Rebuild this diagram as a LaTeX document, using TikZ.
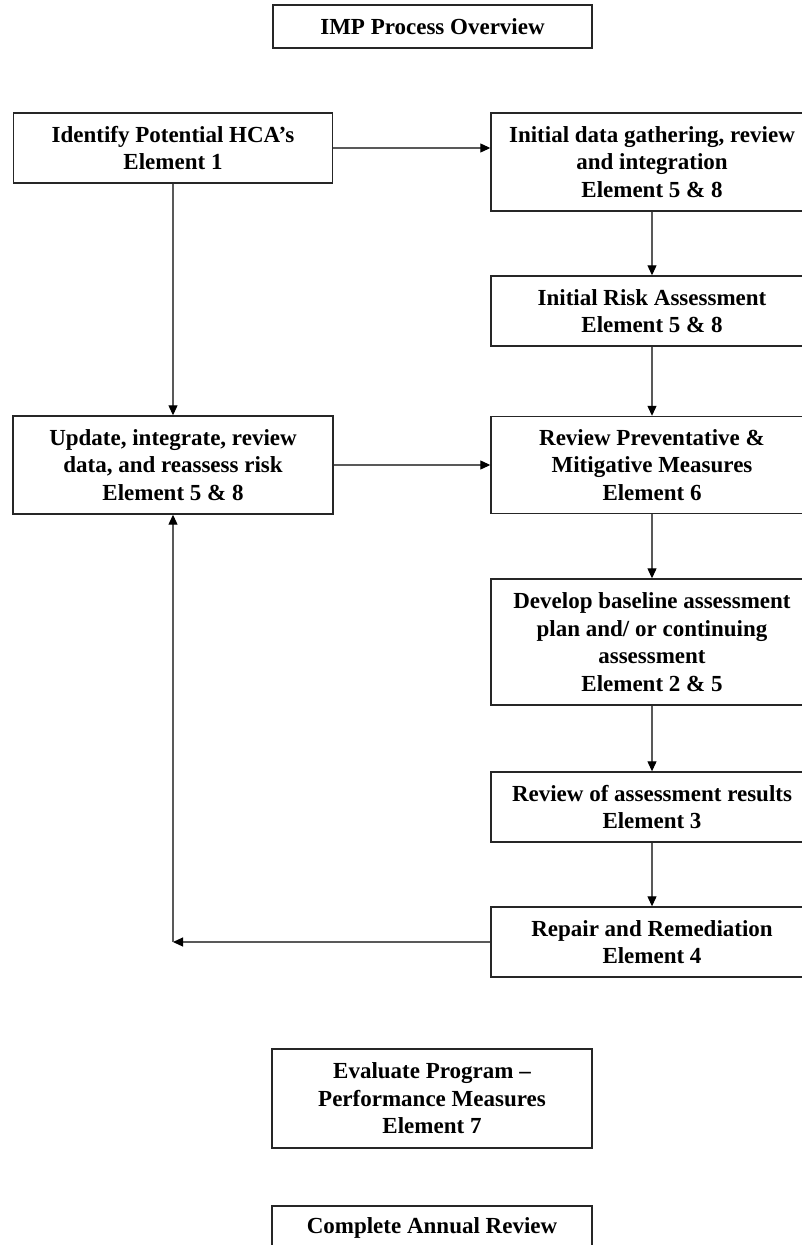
\documentclass[tikz,border=0pt]{standalone}
\usepackage{fontspec}
\setmainfont{Liberation Serif}
\usetikzlibrary{arrows.meta}
\tikzset{
  boxnode/.style={draw=black!85, line width=1.4pt, rectangle, align=center,
    font=\bfseries\fontsize{23}{27.5}\selectfont, inner sep=0pt},
  conn/.style={draw=black!65, line width=1.1pt,
    -{Triangle[length=10pt,width=9pt,color=black]}}
}
\begin{document}
\begin{tikzpicture}[x=1pt,y=-1pt]
\useasboundingbox (0,0) rectangle (802,1245);
\clip (0,0) rectangle (802,1245);
\fill[white] (0,0) rectangle (802,1245);
\node[boxnode, minimum width=319, minimum height=43] (title) at (432.5,26.5) {IMP Process Overview};
\node[boxnode, minimum width=319, minimum height=70] (ident) at (173,148) {Identify Potential HCA's\\Element 1};
\node[boxnode, minimum width=322, minimum height=98] (init) at (652,162) {Initial data gathering, review\\and integration\\Element 5 \& 8};
\node[boxnode, minimum width=322, minimum height=70] (risk) at (652,311) {Initial Risk Assessment\\Element 5 \& 8};
\node[boxnode, minimum width=320, minimum height=98] (upd) at (173,465) {Update, integrate, review\\data, and reassess risk\\Element 5 \& 8};
\node[boxnode, minimum width=322, minimum height=97] (rev) at (652,465) {Review Preventative \&\\Mitigative Measures\\Element 6};
\node[boxnode, minimum width=322, minimum height=126] (dev) at (652,642) {Develop baseline assessment\\plan and/ or continuing\\assessment\\Element 2 \& 5};
\node[boxnode, minimum width=322, minimum height=70] (res) at (652,807) {Review of assessment results\\Element 3};
\node[boxnode, minimum width=322, minimum height=70] (rep) at (652,942) {Repair and Remediation\\Element 4};
\node[boxnode, minimum width=320, minimum height=99] (eval) at (432,1098.5) {Evaluate Program --\\Performance Measures\\Element 7};
\node[boxnode, minimum width=320, minimum height=43] (annual) at (432,1227.5) {Complete Annual Review};
\coordinate (corner) at (173,942);
\draw[conn] (ident.east) -- (ident.east -| init.west);
\draw[conn] (init.south) -- (risk.north);
\draw[conn] (risk.south) -- (rev.north);
\draw[conn] (ident.south) -- (upd.north);
\draw[conn] (upd.east) -- (upd.east -| rev.west);
\draw[conn] (rev.south) -- (dev.north);
\draw[conn] (dev.south) -- (res.north);
\draw[conn] (res.south) -- (rep.north);
\draw[conn] (rep.west) -- (corner);
\draw[conn] (corner) -- (upd.south);
\end{tikzpicture}
\end{document}
